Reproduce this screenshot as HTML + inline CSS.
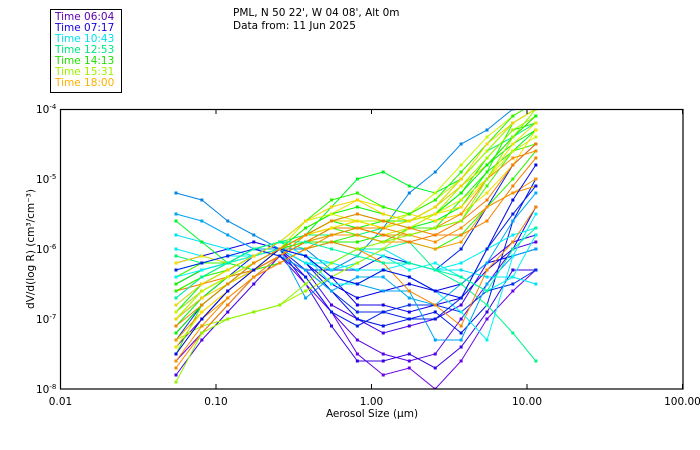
<!DOCTYPE html>
<html><head><meta charset="utf-8"><style>
body{margin:0;background:#fff;width:700px;height:450px;overflow:hidden}
svg{display:block;font-family:"DejaVu Sans","Liberation Sans",sans-serif}
</style></head><body>
<svg id="chart" width="700" height="450">
<g>
<rect x="50.5" y="9.5" width="71" height="83" fill="none" stroke="#000"/>
<g font-size="10.5">
<text x="55" y="20" fill="#6000b0">Time 06:04</text>
<text x="55" y="31" fill="#1800e0">Time 07:17</text>
<text x="55" y="42" fill="#00e0f0">Time 10:43</text>
<text x="55" y="53" fill="#00e880">Time 12:53</text>
<text x="55" y="64" fill="#20e000">Time 14:13</text>
<text x="55" y="75" fill="#a0f000">Time 15:31</text>
<text x="55" y="86" fill="#ffb000">Time 18:00</text>
</g></g>
<text x="233" y="16" font-size="10.5">PML, N 50 22', W 04 08', Alt 0m</text>
<text x="233" y="29" font-size="10.5">Data from: 11 Jun 2025</text>
<defs><clipPath id="pc"><rect x="60.5" y="109" width="622.5" height="280"/></clipPath></defs>
<g id="series" clip-path="url(#pc)"></g>
<rect x="60.5" y="109.5" width="622.5" height="279.5" fill="none" stroke="#000" stroke-width="1.2"/>
<g id="axes" font-size="10.5"></g>
<text x="372" y="417" font-size="10.5" text-anchor="middle">Aerosol Size (μm)</text>
<text transform="translate(34,249) rotate(-90)" font-size="10.5" text-anchor="middle">dV/d(log R) (cm³/cm⁻³)</text>
</svg>
<script>
const diameters=[0.0553,0.0811,0.119,0.175,0.257,0.377,0.553,0.811,1.19,1.75,2.57,3.77,5.53,8.11,11.4];
const xTickLabels=["0.01","0.10","1.00","10.00","100.00"];
const xTickValues=[0.01,0.1,1,10,100];
const yTickExps=[-4,-5,-6,-7,-8];
const seriesHues=[268,262,258,255,245,240,235,232,228,205,200,198,185,182,178,155,150,130,125,120,115,112,108,105,80,75,72,55,52,38,36,33,30,118,70,55,35,110,180,238,232,52,85,160,32];
// log10 of dV/dlogR per series
const s01=[-7.6,-7.2,-6.8,-6.4,-6.1,-6.5,-6.9,-7.5,-7.8,-7.7,-8.0,-7.6,-7.0,-6.6,-6.3];
const s02=[-7.4,-7.0,-6.6,-6.3,-6.0,-6.4,-6.9,-7.3,-7.5,-7.6,-7.5,-7.0,-6.5,-6.0,-5.9];
const s03=[-7.8,-7.3,-6.9,-6.5,-6.1,-6.3,-6.8,-7.0,-7.2,-7.1,-7.0,-6.8,-6.2,-5.9,-5.8];
const s04=[-7.2,-6.8,-6.5,-6.2,-6.0,-6.5,-7.1,-7.6,-7.6,-7.5,-7.7,-7.4,-6.9,-6.3,-6.3];
const s05=[-6.2,-6.1,-6.0,-5.9,-6.0,-6.1,-6.4,-6.8,-6.8,-6.9,-6.8,-6.7,-6.3,-6.0,-5.4];
const s06=[-6.5,-6.3,-6.2,-6.1,-6.0,-6.2,-6.5,-6.7,-6.6,-6.5,-6.6,-6.5,-6.2,-6.1,-6.0];
const s07=[-7.0,-6.7,-6.4,-6.2,-6.0,-6.2,-6.6,-7.0,-7.1,-7.0,-6.9,-7.2,-6.8,-5.6,-5.0];
const s08=[-6.9,-6.6,-6.4,-6.1,-6.0,-6.3,-6.3,-6.3,-6.1,-6.2,-6.3,-6.0,-5.4,-4.8,-4.5];
const s09=[-7.3,-6.8,-6.5,-6.3,-6.1,-6.3,-6.6,-6.9,-6.9,-6.8,-6.8,-6.9,-6.6,-6.5,-6.3];
const s10=[-5.2,-5.3,-5.6,-5.8,-6.0,-6.0,-6.3,-6.1,-5.7,-5.2,-4.9,-4.5,-4.3,-4.0,-3.9];
const s11=[-5.5,-5.6,-5.8,-6.0,-6.0,-6.7,-6.4,-6.5,-6.6,-6.6,-7.3,-7.3,-6.5,-6.1,-6.0];
const s12=[-6.7,-6.4,-6.2,-6.0,-6.1,-6.3,-6.6,-6.4,-6.4,-6.7,-6.8,-6.5,-6.2,-5.6,-5.2];
const s13=[-5.8,-5.9,-6.0,-6.1,-6.0,-6.2,-6.3,-6.2,-6.0,-6.2,-6.3,-6.3,-6.4,-6.4,-6.5];
const s14=[-6.0,-6.1,-6.2,-6.1,-5.9,-6.1,-6.2,-6.3,-6.3,-6.2,-6.3,-6.2,-6.0,-5.8,-5.7];
const s15=[-6.3,-6.2,-6.1,-6.1,-6.0,-6.2,-6.2,-6.0,-6.1,-6.3,-6.2,-6.4,-6.6,-6.4,-5.8];
const s16=[-6.8,-6.5,-6.3,-6.1,-5.9,-6.0,-5.9,-6.0,-6.0,-5.9,-6.3,-6.5,-6.8,-7.2,-7.6];
const s17=[-6.1,-6.2,-6.2,-6.0,-5.9,-5.8,-5.8,-5.8,-5.7,-5.6,-5.4,-5.0,-4.6,-4.4,-4.2];
const s18=[-5.6,-5.9,-6.2,-6.3,-6.0,-5.8,-5.4,-5.0,-4.9,-5.1,-5.2,-5.0,-4.6,-4.2,-4.0];
const s19=[-6.9,-6.5,-6.3,-6.1,-6.0,-5.8,-5.6,-5.5,-5.6,-5.7,-5.6,-5.4,-4.9,-4.6,-4.3];
const s20=[-7.1,-6.7,-6.4,-6.2,-6.0,-5.8,-5.6,-5.7,-5.7,-5.6,-5.4,-5.1,-4.8,-4.5,-4.3];
const s21=[-6.5,-6.3,-6.2,-6.0,-5.9,-5.9,-5.8,-5.7,-5.6,-5.6,-5.5,-5.2,-4.7,-4.3,-4.2];
const s22=[-7.0,-6.6,-6.4,-6.3,-6.2,-6.0,-5.9,-5.9,-5.8,-5.8,-5.7,-5.3,-4.9,-4.2,-4.0];
const s23=[-7.5,-6.8,-6.5,-6.3,-6.0,-5.9,-5.9,-5.8,-5.9,-5.9,-6.0,-5.8,-5.4,-5.0,-4.6];
const s24=[-6.4,-6.2,-6.2,-6.1,-6.0,-5.9,-5.7,-5.8,-5.9,-5.7,-5.7,-5.6,-5.1,-4.6,-4.5];
const s25=[-7.3,-7.1,-7.0,-6.9,-6.8,-6.6,-6.4,-6.2,-6.0,-5.7,-5.5,-5.1,-4.7,-4.3,-4.1];
const s26=[-6.6,-6.4,-6.2,-6.1,-6.0,-5.8,-5.7,-5.6,-5.6,-5.5,-5.3,-5.0,-4.6,-4.2,-4.0];
const s27=[-7.0,-6.6,-6.4,-6.2,-6.0,-5.8,-5.7,-5.7,-5.8,-5.7,-5.5,-5.3,-5.0,-4.6,-4.4];
const s28=[-6.2,-6.1,-6.2,-6.1,-6.0,-5.7,-5.5,-5.3,-5.4,-5.5,-5.6,-5.5,-5.2,-4.8,-4.3];
const s29=[-7.0,-6.7,-6.5,-6.3,-6.1,-5.8,-5.6,-5.6,-5.7,-5.6,-5.4,-5.1,-4.8,-4.4,-4.1];
const s30=[-7.5,-7.0,-6.7,-6.4,-6.1,-5.9,-5.8,-5.8,-5.9,-5.9,-6.0,-5.9,-5.4,-5.2,-5.0];
const s31=[-7.3,-6.9,-6.6,-6.3,-6.1,-5.8,-5.7,-5.7,-5.8,-5.8,-5.9,-5.7,-5.4,-5.2,-5.1];
const s32=[-7.7,-7.2,-6.8,-6.4,-6.2,-6.0,-5.9,-6.0,-6.2,-6.6,-6.8,-7.1,-6.3,-5.9,-5.4];
const s33=[-6.6,-6.5,-6.4,-6.3,-6.1,-5.9,-5.7,-5.7,-5.8,-5.9,-5.8,-5.6,-5.3,-4.8,-4.5];
const s34=[-7.2,-6.8,-6.5,-6.2,-6.0,-5.7,-5.5,-5.4,-5.5,-5.6,-5.5,-5.2,-4.8,-4.4,-4.1];
const s35=[-6.9,-6.6,-6.4,-6.2,-6.0,-5.6,-5.5,-5.6,-5.7,-5.5,-5.2,-4.8,-4.4,-4.1,-3.9];
const s36=[-7.4,-6.9,-6.6,-6.3,-6.0,-5.8,-5.7,-5.6,-5.7,-5.6,-5.5,-5.4,-5.0,-4.5,-4.2];
const s37=[-7.6,-7.1,-6.7,-6.4,-6.2,-6.0,-5.8,-5.7,-5.7,-5.8,-5.7,-5.5,-5.0,-4.7,-4.6];
const s38=[-6.6,-6.4,-6.3,-6.1,-5.9,-5.6,-5.3,-5.2,-5.4,-5.5,-5.3,-4.9,-4.5,-4.1,-3.9];
const s39=[-6.4,-6.3,-6.2,-6.1,-6.0,-6.1,-6.5,-6.5,-6.3,-6.4,-6.6,-6.9,-7.3,-6.1,-5.5];
const s40=[-7.5,-7.0,-6.6,-6.3,-6.0,-6.1,-6.4,-6.5,-6.3,-6.4,-6.6,-6.7,-6.0,-5.3,-4.8];
const s41=[-6.3,-6.2,-6.1,-6.0,-6.1,-6.4,-6.9,-7.1,-6.9,-7.0,-7.0,-6.7,-6.0,-5.5,-5.1];
const s42=[-6.8,-6.5,-6.3,-6.1,-5.9,-5.6,-5.4,-5.3,-5.5,-5.6,-5.4,-5.0,-4.5,-4.2,-4.0];
const s43=[-7.9,-7.2,-7.0,-6.9,-6.8,-6.5,-6.2,-6.0,-5.9,-5.8,-5.7,-5.6,-5.0,-4.4,-4.0];
const s44=[-6.7,-6.4,-6.2,-6.0,-5.9,-5.9,-6.0,-6.1,-6.2,-6.2,-6.3,-6.4,-6.6,-6.0,-5.7];
const s45=[-7.1,-6.8,-6.5,-6.2,-6.0,-5.8,-5.6,-5.5,-5.6,-5.7,-5.8,-5.8,-5.6,-5.1,-4.7];
const allSeries=[s01,s02,s03,s04,s05,s06,s07,s08,s09,s10,s11,s12,s13,s14,s15,s16,s17,s18,s19,s20,s21,s22,s23,s24,s25,s26,s27,s28,s29,s30,s31,s32,s33,s34,s35,s36,s37,s38,s39,s40,s41,s42,s43,s44,s45];

const NS="http://www.w3.org/2000/svg";
const X0=60.5,XD=155.5,Y0=109,YD=70;
function xs(d){return X0+(Math.log10(d)+2)*XD;}
function ys(e){return Y0+(-4-e)*YD;}
const g=document.getElementById('series');
allSeries.forEach((s,i)=>{
  const h=seriesHues[i];
  const col='hsl('+h+',100%,'+(h>200?45:48)+'%)';
  const pl=document.createElementNS(NS,'polyline');
  pl.setAttribute('points',s.map((v,k)=>xs(diameters[k]).toFixed(1)+','+ys(v).toFixed(1)).join(' '));
  pl.setAttribute('fill','none');pl.setAttribute('stroke',col);pl.setAttribute('stroke-width','1');
  
  
  g.appendChild(pl);
  s.forEach((v,k)=>{
    const r=document.createElementNS(NS,'rect');
    r.setAttribute('x',xs(diameters[k])-1.5);r.setAttribute('y',ys(v)-1.5);
    r.setAttribute('width',3);r.setAttribute('height',3);r.setAttribute('fill',col);
    
    
    g.appendChild(r);
  });
});
const ax=document.getElementById('axes');
xTickValues.forEach((v,i)=>{
  const x=xs(v);
  [[389,-5],[109,5]].forEach(([y,dy])=>{
    const l=document.createElementNS(NS,'line');
    l.setAttribute('x1',x);l.setAttribute('x2',x);l.setAttribute('y1',y);l.setAttribute('y2',y+dy);
    l.setAttribute('stroke','#000');
    
    
    ax.appendChild(l);
  });
  const t=document.createElementNS(NS,'text');
  t.setAttribute('x',x);t.setAttribute('y',405);t.setAttribute('text-anchor','middle');
  t.textContent=xTickLabels[i];
  
  
  ax.appendChild(t);
});
yTickExps.forEach(e=>{
  const y=ys(e);
  const t=document.createElementNS(NS,'text');
  t.setAttribute('x',36);t.setAttribute('y',y+4);
  t.innerHTML='10<tspan dy="-4" font-size="7">'+e+'</tspan>';
  
  
  ax.appendChild(t);
});
</script>
</body></html>
